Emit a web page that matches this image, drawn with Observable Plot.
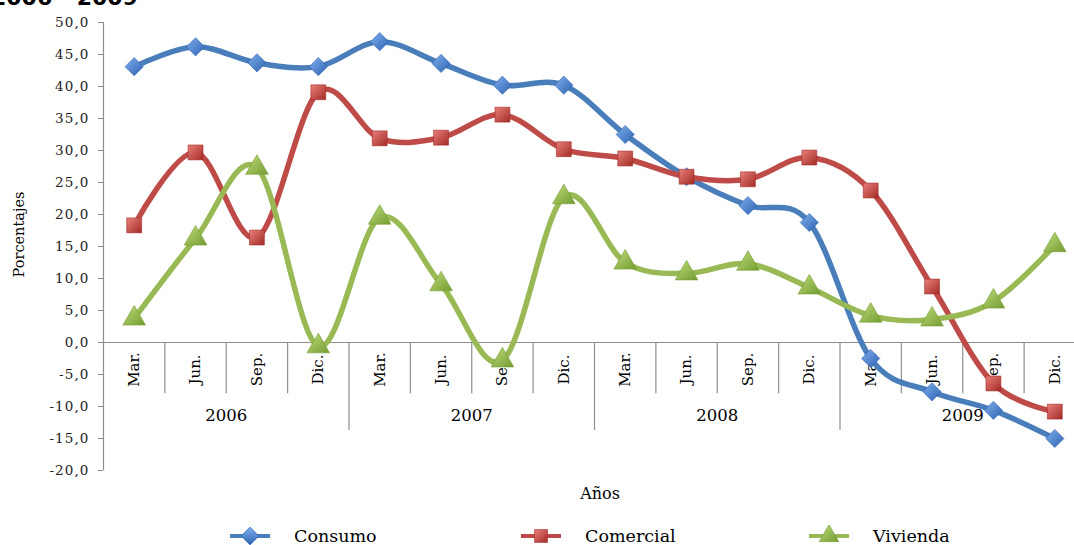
<!DOCTYPE html>
<html>
<head>
<meta charset="utf-8">
<script src="https://cdn.jsdelivr.net/npm/d3@7"></script>
<script src="https://cdn.jsdelivr.net/npm/@observablehq/plot@0.6"></script>
<style>
  body { margin: 0; background: #fff; }
  #wrap { position: relative; width: 1074px; height: 545px; overflow: hidden; background: #fff; }
  #title { position: absolute; left: -9px; top: -15px; line-height: 22px; font: bold 22px "DejaVu Sans", sans-serif; color: #000; white-space: nowrap; }
  #legend { position: absolute; left: 0; top: 525px; width: 1074px; height: 22px; font: 17.5px "DejaVu Serif", serif; color: #000; }
  .item { position: absolute; top: 0; height: 22px; display: flex; align-items: center; }
  .item svg { margin-right: 24px; }
  g[aria-label="y-axis tick label"] text { letter-spacing: 1.1px; }
</style>
</head>
<body>
<div id="wrap">
  <div id="chart"></div>
  <div id="title">2006 - 2009</div>
  <div id="legend"></div>
</div>
<script>
const years = ["2006", "2007", "2008", "2009"];
const quarters = ["Mar.", "Jun.", "Sep.", "Dic."];
const seriesNames = ["Consumo", "Comercial", "Vivienda"];
const consumo   = [43.1, 46.2, 43.7, 43.1, 47.0, 43.6, 40.2, 40.2, 32.5, 25.9, 21.4, 18.75, -2.5, -7.7, -10.6, -15.0];
const comercial = [18.3, 29.7, 16.4, 39.1, 31.9, 32.0, 35.6, 30.2, 28.75, 25.9, 25.5, 28.9, 23.75, 8.75, -6.4, -10.8];
const vivienda  = [3.75, 16.25, 27.3, -0.6, 19.5, 9.1, -2.8, 22.7, 12.5, 10.8, 12.3, 8.6, 4.2, 3.6, 6.4, 15.2];
const yTicks = [-20, -15, -10, -5, 0, 5, 10, 15, 20, 25, 30, 35, 40, 45, 50];

const lineColors = ["#4a7ebb", "#be4b48", "#98b954"];
const gradStops = [["#7fb0ee", "#2d62b0"], ["#e8807a", "#a42a26"], ["#c0dc7c", "#739c30"]];
const symbols = ["diamond2", "square", "triangle"];
const radii = [8.2, 8.4, 8.4];

const values = [consumo, comercial, vivienda];
const categories = [];
years.forEach(y => quarters.forEach(q => categories.push({year: y, q})));
const rows = [];
seriesNames.forEach((s, si) => values[si].forEach((v, i) => rows.push({serie: s, si, i, value: v, ...categories[i]})));

const n = categories.length;
const boundaries = d3.range(1, n).map(k => k - 0.5);
const shortB = boundaries.filter(b => (b + 0.5) % quarters.length !== 0);
const longB = boundaries.filter(b => (b + 0.5) % quarters.length === 0);

const fmt = d => d.toFixed(1).replace(".", ",");
const gray = "#8e8e8e";

const defs = () => {
  const g = d3.create("svg:defs");
  gradStops.forEach((st, k) => {
    const lg = g.append("linearGradient").attr("id", "grad" + k)
      .attr("x1", "0").attr("y1", "0").attr("x2", "1").attr("y2", "1");
    lg.append("stop").attr("offset", "0%").attr("stop-color", st[0]);
    lg.append("stop").attr("offset", "100%").attr("stop-color", st[1]);
  });
  return g.node();
};

const seriesMarks = seriesNames.flatMap((s, si) => [
  Plot.line(rows.filter(d => d.serie === s), {x: "i", y: "value", stroke: lineColors[si], strokeWidth: 5.5, curve: "cardinal"}),
  Plot.dot(rows.filter(d => d.serie === s), {x: "i", y: "value", symbol: symbols[si], r: radii[si], fill: `url(#grad${si})`, stroke: gradStops[si][1], strokeWidth: 0.6})
]);

const chart = Plot.plot({
  width: 1074,
  height: 545,
  marginLeft: 103,
  marginRight: 0,
  marginTop: 22,
  marginBottom: 75,
  x: {type: "linear", domain: [-0.5, n - 0.5], range: [103, 1085], axis: null},
  y: {domain: [-20, 50], axis: null},
  style: {background: "white", fontFamily: "DejaVu Serif, serif", overflow: "hidden"},
  marks: [
    defs,
    Plot.axisY(yTicks, {tickFormat: fmt, tickSize: 5, tickPadding: 9, fontSize: 13.5, fontFamily: "DejaVu Serif", stroke: gray, fill: "#222", label: null}),
    Plot.ruleX([-0.5], {y1: -20, y2: 50, stroke: gray, strokeWidth: 1.2}),
    Plot.ruleY([0], {x1: -0.5, x2: n - 0.5, stroke: gray, strokeWidth: 1.2}),
    Plot.ruleX(shortB, {x: d => d, y1: 0, y2: -8, stroke: gray, strokeWidth: 1.2}),
    Plot.ruleX(longB, {x: d => d, y1: 0, y2: -13.75, stroke: gray, strokeWidth: 1.2}),
    Plot.text(categories, {x: (d, i) => i, y: 0, text: "q", rotate: -90, dy: 27, textAnchor: "middle", lineAnchor: "middle", fontSize: 15, fill: "#000"}),
    Plot.text(years, {x: (d, i) => i * quarters.length + (quarters.length - 1) / 2, y: 0, text: d => d, dy: 73, fontSize: 16.5, fill: "#000"}),
    Plot.text(["Años"], {frameAnchor: "bottom", dx: 11, dy: 28, fontSize: 16, fill: "#000"}),
    Plot.text(["Porcentajes"], {frameAnchor: "left", textAnchor: "middle", dx: -84, dy: -12, rotate: -90, fontSize: 14.5, fill: "#000"}),
    ...seriesMarks
  ]
});
document.getElementById("chart").appendChild(chart);

// Legend
const legendX = [230, 521, 809];
const legendSymbols = {diamond2: d3.symbolSquare, square: d3.symbolSquare, triangle: d3.symbolTriangle};
const legend = document.getElementById("legend");
seriesNames.forEach((s, si) => {
  const item = document.createElement("div");
  item.className = "item";
  item.style.left = legendX[si] + "px";
  const sym = d3.symbol(legendSymbols[symbols[si]], Math.PI * radii[si] * radii[si] * 0.75)();
  const svg = d3.create("svg").attr("width", 40).attr("height", 22);
  const lg = svg.append("defs").append("linearGradient").attr("id", "lg" + si).attr("x1", 0).attr("y1", 0).attr("x2", 1).attr("y2", 1);
  lg.append("stop").attr("offset", "0%").attr("stop-color", gradStops[si][0]);
  lg.append("stop").attr("offset", "100%").attr("stop-color", gradStops[si][1]);
  svg.append("line").attr("x1", 0).attr("x2", 40).attr("y1", 11).attr("y2", 11).attr("stroke", lineColors[si]).attr("stroke-width", 4);
  svg.append("path").attr("d", sym).attr("transform", "translate(20,11)" + (si === 0 ? " rotate(45)" : "")).attr("fill", `url(#lg${si})`).attr("stroke", gradStops[si][1]).attr("stroke-width", 0.6);
  item.appendChild(svg.node());
  const t = document.createElement("span");
  t.textContent = s;
  item.appendChild(t);
  legend.appendChild(item);
});
</script>
</body>
</html>
